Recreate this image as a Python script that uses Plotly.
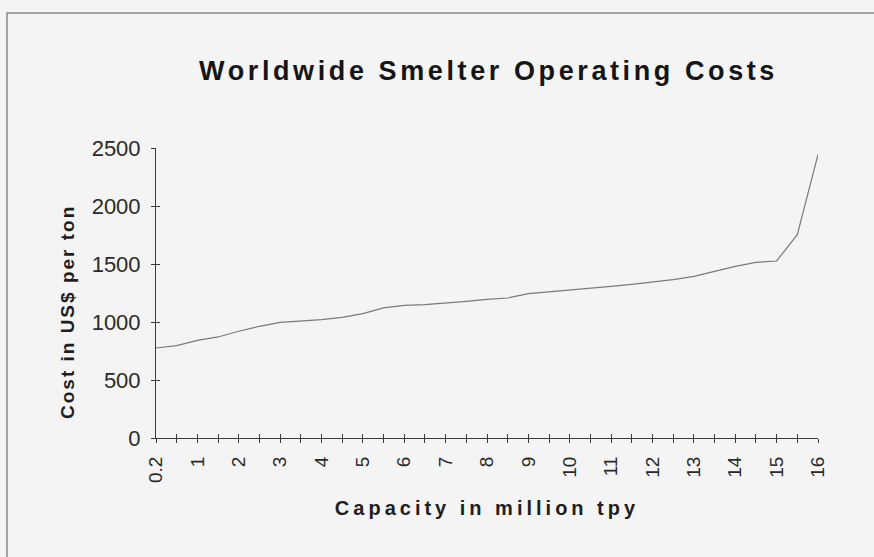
import plotly.graph_objects as go

# Smelter capacity (cumulative, million tpy) and operating cost (US$ per ton)
capacity = ["0.2", "0.5", "1", "1.5", "2", "2.5", "3", "3.5", "4", "4.5", "5",
            "5.5", "6", "6.5", "7", "7.5", "8", "8.5", "9", "9.5", "10", "10.5",
            "11", "11.5", "12", "12.5", "13", "13.5", "14", "14.5", "15", "15.5", "16"]
cost = [776, 796, 842, 871, 920, 963, 997, 1009, 1020, 1040, 1072,
        1121, 1144, 1149, 1161, 1178, 1195, 1207, 1244, 1259, 1273, 1290,
        1307, 1325, 1345, 1365, 1394, 1440, 1480, 1514, 1526, 1753, 2443]

# only whole-number labels (plus the first point) are shown on the axis
tick_text = [c if (i % 2 == 0) else "" for i, c in enumerate(capacity)]
y_ticks = [0, 500, 1000, 1500, 2000, 2500]

BG = "#f4f4f4"
AXIS = "#3a3a3a"
FONT = "Liberation Sans, Arial, sans-serif"


def spaced(text, px):
    """Bold text with extra tracking between letters."""
    return f'<span style="letter-spacing:{px}px"><b>{text}</b></span>'


idx = list(range(len(capacity)))

fig = go.Figure()
fig.add_trace(go.Scatter(
    x=capacity, y=cost, mode="lines",
    line=dict(color="#7a7a7a", width=1.2),
    showlegend=False, hoverinfo="x+y",
))
# transparent copy on the overlay axes, which carry the inner half of each tick
fig.add_trace(go.Scatter(
    x=idx, y=cost, xaxis="x2", yaxis="y2", mode="lines",
    line=dict(width=0), opacity=0, showlegend=False, hoverinfo="skip",
))

fig.update_layout(
    width=874, height=557,
    margin=dict(l=156, r=56, t=148, b=119),
    paper_bgcolor=BG, plot_bgcolor=BG,
    font=dict(family=FONT, color="#1e1e1e"),
    title=dict(text=spaced("Worldwide Smelter Operating Costs", 3.6),
               x=0.559, xanchor="center", y=0.873, yanchor="middle",
               font=dict(size=27, family=FONT, color="#151515")),
    xaxis=dict(
        type="category", categoryorder="array", categoryarray=capacity,
        range=[0, len(capacity) - 1],
        tickmode="array", tickvals=capacity, ticktext=tick_text,
        tickangle=-90, tickfont=dict(size=19, color="#2a2a2a"),
        ticks="outside", ticklen=4, tickcolor=AXIS, tickwidth=1,
        ticklabelstandoff=6,
        showline=True, linecolor=AXIS, linewidth=1,
        showgrid=False, zeroline=False,
        title=dict(text=spaced("Capacity in million tpy", 4),
                   font=dict(size=20, color="#1e1e1e"), standoff=18),
    ),
    yaxis=dict(
        range=[0, 2500], tickmode="array", tickvals=y_ticks,
        tickfont=dict(size=22, color="#2a2a2a"),
        ticks="outside", ticklen=4, tickcolor=AXIS, tickwidth=1,
        ticklabelstandoff=6,
        showline=True, linecolor=AXIS, linewidth=1,
        showgrid=False, zeroline=False,
    ),
    xaxis2=dict(
        overlaying="x", anchor="y", side="bottom",
        range=[0, len(capacity) - 1],
        tickmode="array", tickvals=idx,
        ticks="inside", ticklen=4, tickcolor=AXIS, tickwidth=1,
        showticklabels=False, showgrid=False, zeroline=False, showline=False,
    ),
    yaxis2=dict(
        overlaying="y", anchor="x", side="left",
        range=[0, 2500], tickmode="array", tickvals=y_ticks,
        ticks="inside", ticklen=4, tickcolor=AXIS, tickwidth=1,
        showticklabels=False, showgrid=False, zeroline=False, showline=False,
    ),
    annotations=[dict(
        text=spaced("Cost in US$ per ton", 2), textangle=-90,
        xref="paper", yref="paper", x=-0.1329, y=0.4345,
        xanchor="center", yanchor="middle", showarrow=False,
        font=dict(size=19, family=FONT, color="#1e1e1e"),
    )],
    shapes=[dict(
        type="rect", xref="paper", yref="paper",
        x0=-0.2251, x1=1.2, y0=-0.6, y1=1.4655,
        line=dict(color="#8a8a8a", width=1.5), fillcolor="rgba(0,0,0,0)",
        layer="below",
    )],
)

fig.write_html("out.html")
